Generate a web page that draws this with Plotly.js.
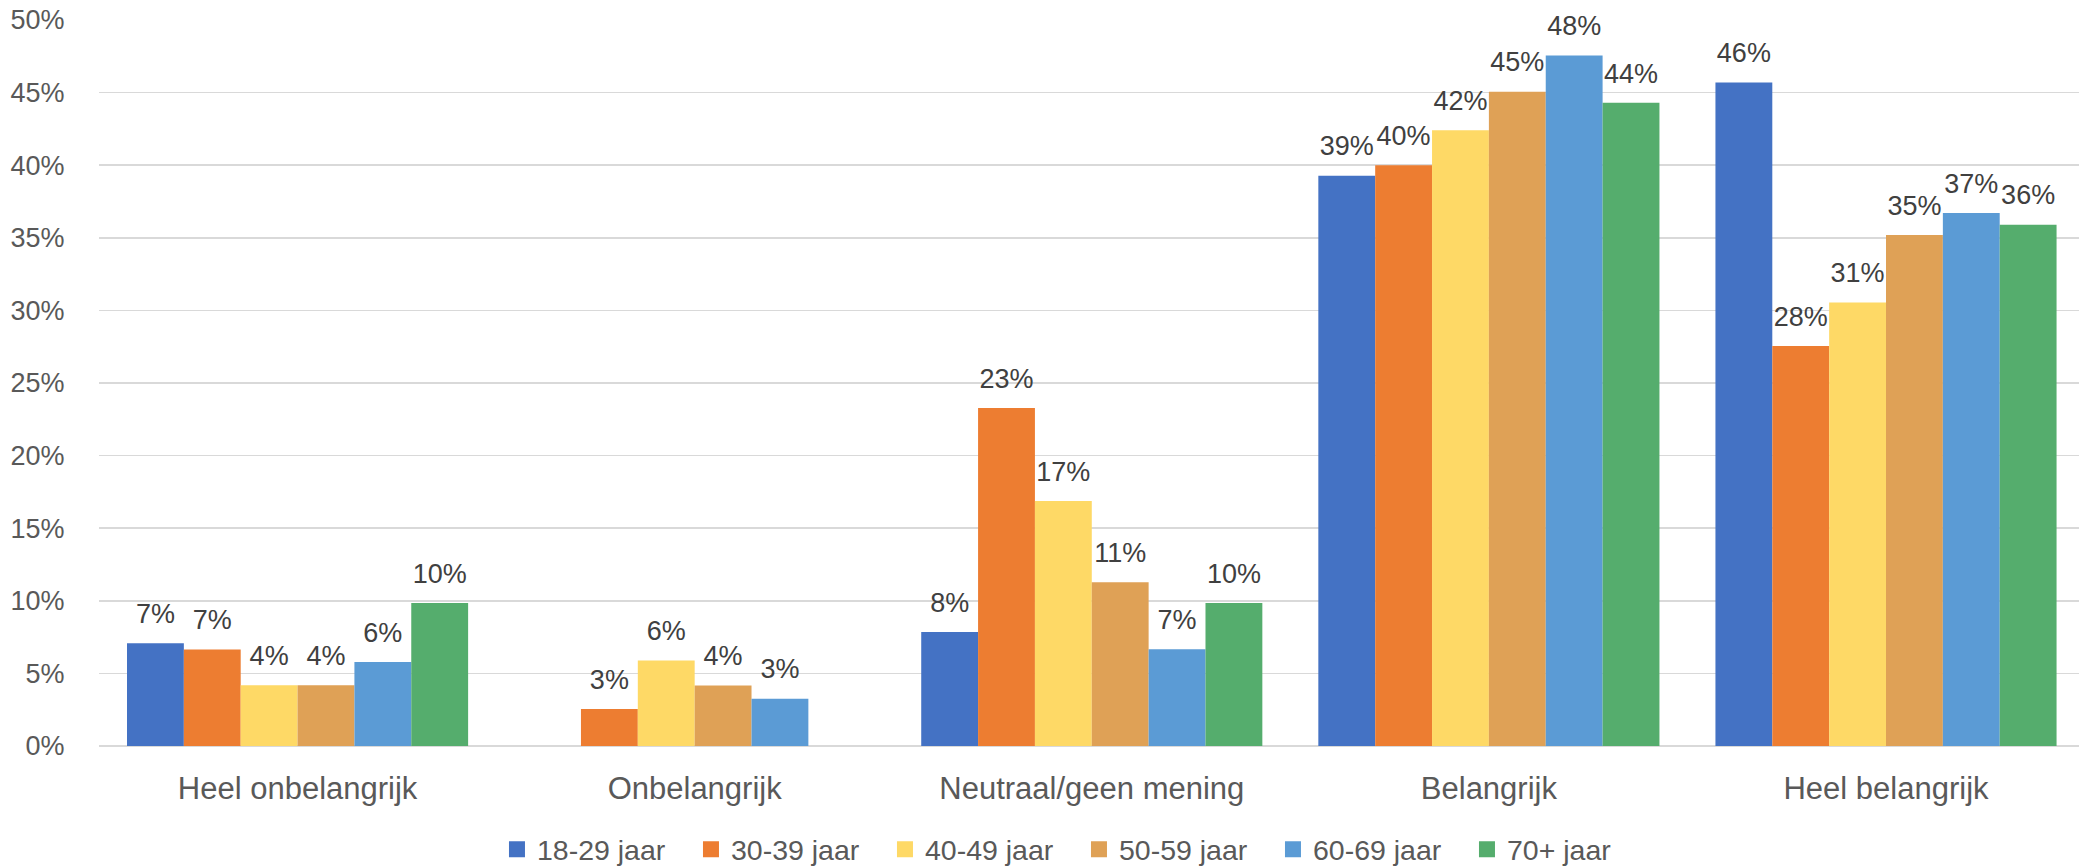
<!DOCTYPE html>
<html>
<head>
<meta charset="utf-8">
<script src="https://cdn.plot.ly/plotly-3.0.1.min.js"></script>
<style>
  html, body { margin: 0; padding: 0; background: #ffffff; }
  #chart { width: 2079px; height: 866px; }
</style>
</head>
<body>
<div id="chart"></div>
<script>
// Categories (x axis)
const categories = ["Heel onbelangrijk", "Onbelangrijk", "Neutraal/geen mening", "Belangrijk", "Heel belangrijk"];

// Series names
const seriesNames = ["18-29 jaar", "30-39 jaar", "40-49 jaar", "50-59 jaar", "60-69 jaar", "70+ jaar"];

// Series values (percent)
const age18_29 = [7.07, null, 7.85, 39.28, 45.7];
const age30_39 = [6.65, 2.55, 23.28, 40.0, 27.55];
const age40_49 = [4.18, 5.88, 16.87, 42.4, 30.55];
const age50_59 = [4.18, 4.16, 11.27, 45.06, 35.2];
const age60_69 = [5.78, 3.26, 6.66, 47.55, 36.7];
const age70plus = [9.84, null, 9.85, 44.3, 35.9];

// Y tick values / labels
const yTickVals = [0, 5, 10, 15, 20, 25, 30, 35, 40, 45, 50];
const yTickText = ["0%", "5%", "10%", "15%", "20%", "25%", "30%", "35%", "40%", "45%", "50%"];

const seriesValues = [age18_29, age30_39, age40_49, age50_59, age60_69, age70plus];
const seriesColors = ["#4472C4", "#ED7D31", "#FED966", "#DFA156", "#5B9BD5", "#55AD6D"];

const FONT = "'Liberation Sans', Arial, sans-serif";
const GAP = 0.141;

// Bars
const barTraces = seriesNames.map((name, i) => ({
  type: "bar",
  name: name,
  x: categories,
  y: seriesValues[i],
  marker: { color: seriesColors[i], line: { width: 0 } },
  showlegend: false,
  hoverinfo: "skip"
}));

// Data labels (grouped scatter, aligned with the bars)
const labelTraces = seriesNames.map((name, i) => ({
  type: "scatter",
  mode: "markers+text",
  name: name,
  x: categories,
  y: seriesValues[i],
  offsetgroup: "g" + i,
  alignmentgroup: "labels",
  marker: { size: 20, color: "rgba(0,0,0,0)", line: { width: 0 } },
  text: seriesValues[i].map(v => v === null ? "" : Math.round(v) + "%"),
  textposition: "top center",
  textfont: { family: FONT, size: 27, color: "#404040" },
  cliponaxis: false,
  showlegend: false,
  hoverinfo: "skip"
}));

// Legend entries (on a hidden overlaying axis so they don't take group slots)
const legendTraces = seriesNames.map((name, i) => ({
  type: "scatter",
  mode: "markers",
  name: name,
  x: [null],
  y: [null],
  xaxis: "x2",
  marker: { symbol: "square", size: 16, color: seriesColors[i], line: { width: 0 } },
  showlegend: true,
  hoverinfo: "skip"
}));

const layout = {
  width: 2079,
  height: 866,
  margin: { l: 99, r: 0, t: 20, b: 120, pad: 0, autoexpand: false },
  paper_bgcolor: "#ffffff",
  plot_bgcolor: "#ffffff",
  barmode: "group",
  bargap: GAP,
  bargroupgap: 0,
  scattermode: "group",
  scattergap: GAP,
  showlegend: true,
  legend: {
    orientation: "h",
    x: 0.201,
    xanchor: "left",
    y: -0.143,
    yanchor: "middle",
    font: { family: FONT, size: 28.5, color: "#595959" },
    traceorder: "normal",
    itemsizing: "trace",
    entrywidth: 149,
    entrywidthmode: "pixels"
  },
  xaxis: {
    type: "category",
    range: [-0.5, 4.486],
    showgrid: false,
    zeroline: false,
    showline: false,
    ticks: "outside",
    ticklen: 15,
    tickcolor: "rgba(0,0,0,0)",
    tickfont: { family: FONT, size: 31, color: "#595959" },
    fixedrange: true
  },
  xaxis2: {
    overlaying: "x",
    visible: false,
    fixedrange: true
  },
  yaxis: {
    range: [0, 50],
    tickvals: yTickVals,
    ticktext: yTickText,
    showgrid: true,
    gridcolor: "#D9D9D9",
    gridwidth: 1.5,
    zeroline: true,
    zerolinecolor: "#D9D9D9",
    zerolinewidth: 1.5,
    showline: false,
    ticks: "outside",
    ticklen: 28,
    tickcolor: "rgba(0,0,0,0)",
    tickfont: { family: FONT, size: 27, color: "#595959" },
    fixedrange: true
  }
};

Plotly.newPlot("chart", barTraces.concat(labelTraces, legendTraces), layout, { displayModeBar: false, staticPlot: true });
</script>
</body>
</html>
